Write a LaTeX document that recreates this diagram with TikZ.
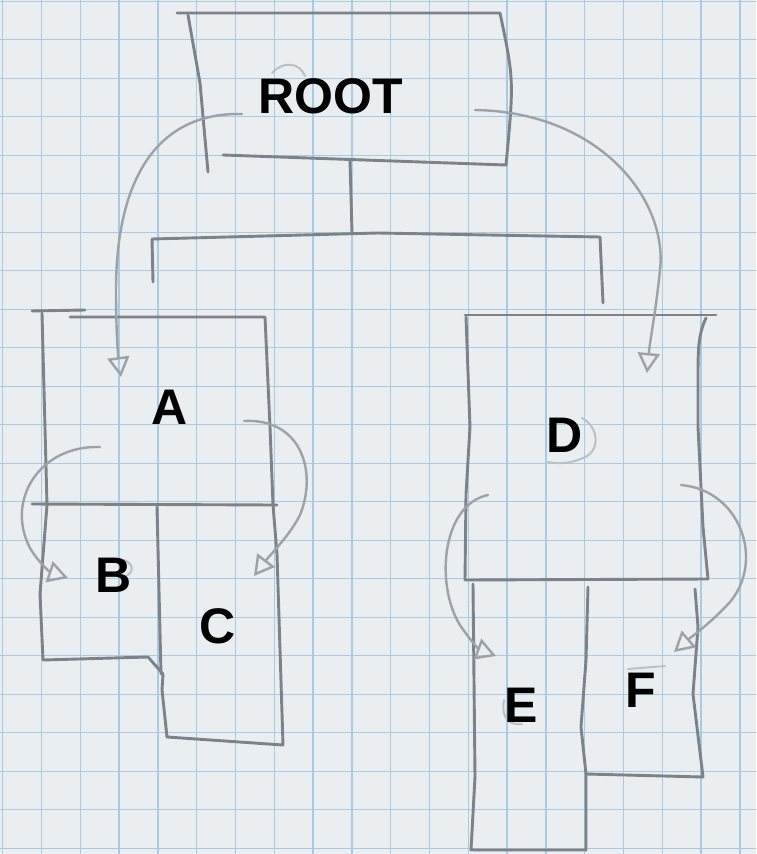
\documentclass[tikz,border=0pt]{standalone}
\usepackage{fontspec}
\setmainfont{Liberation Sans}
\usetikzlibrary{arrows.meta}
\definecolor{paper}{RGB}{234,238,240}
\definecolor{gridblue}{RGB}{168,202,226}
\definecolor{pencil}{RGB}{124,130,136}
\definecolor{lightpencil}{RGB}{156,162,168}
\begin{document}
\begin{tikzpicture}[x=1pt,y=-1pt,
  box/.style={draw=pencil,line width=2.9pt,line cap=round,line join=round},
  link/.style={draw=lightpencil,line width=2.4pt,line cap=round,
    -{Triangle[open,length=20pt,width=22pt,line width=2.4pt]}},
  lbl/.style={font=\fontsize{50}{50}\selectfont\bfseries,text=black,inner sep=0pt},
  ghost/.style={draw=lightpencil!60!paper,line width=2pt,line cap=round},
  gridline/.style={draw=gridblue,line width=1.3pt}]
% paper
\fill[paper] (0,0) rectangle (756,854);
\useasboundingbox (0,0) rectangle (756,854);
\foreach \k in {0,...,19} {\draw[gridline] ({2.7+38.8*\k},0) -- ({2.7+38.8*\k},854);}
\foreach \k in {0,...,22} {\draw[gridline] (0,{1.3+38.5*\k}) -- (756,{1.3+38.5*\k});}

% ghost marks (erased pencil)
\draw[ghost] (272,73) .. controls (284,60) and (300,63) .. (305,76);
\draw[ghost] (582,418) .. controls (600,428) and (600,452) .. (583,458) .. controls (570,464) and (556,464) .. (548,462);
\draw[ghost] (504,700) .. controls (502,712) and (504,726) .. (522,724);
\draw[ghost] (628,669) -- (665,666);
\draw[ghost] (124,560) .. controls (134,564) and (134,572) .. (126,576);

% labels
\node[lbl] (root) at (331,96) {ROOT};
\node[lbl] (a) at (170,407) {A};
\node[lbl] (b) at (114,575) {B};
\node[lbl] (c) at (218,626) {C};
\node[lbl] (d) at (565,435) {D};
\node[lbl] (e) at (521,705) {E};
\node[lbl] (f) at (641,690) {F};

% ROOT box
\draw[box] (177,13) -- (500,13) .. controls (514,80) .. (506,165) -- (223,155);
\draw[box] (188,15) -- (200,83) -- (208,172);
% tree bracket
\draw[box] (350,160) -- (352,233);
\draw[box] (153,282) -- (152,239) -- (378,233) -- (600,237) -- (603,303);

% A / B / C block
\draw[box] (32,311) -- (85,310);
\draw[box] (70,317) -- (265,317) -- (270,427) -- (273,505) -- (277,554) -- (283,745)
  -- (167,737) -- (162,690) -- (163,674) -- (148,657) -- (43,660) -- (40,594) -- (47,505) -- (42,313);
\draw[box] (32,504) -- (277,505);
\draw[box] (157,507) -- (161,674);

% D / E / F block
\draw[box] (465,315) -- (716,315);
\draw[box] (706,318) .. controls (698,335) and (698,350) .. (698,380) -- (698,427) -- (703,527) -- (708,579) -- (465,580);
\draw[box] (466,317) -- (470,427) -- (466,494) -- (465,580);
\draw[box] (473,584) -- (475,777) -- (471,850) -- (586,850);
\draw[box] (588,587) -- (586,660) -- (581,727) -- (586,774) -- (586,850);
\draw[box] (695,589) -- (698,627) -- (693,694) -- (703,777) -- (586,774);

% connector end points
\coordinate (ra1) at (242,114); \coordinate (ra2) at (121,377);
\coordinate (rd1) at (475,110); \coordinate (rd2) at (647,373);
\coordinate (ab1) at (100,447); \coordinate (ab2) at (68,578);
\coordinate (ac1) at (244,421); \coordinate (ac2) at (254,576);
\coordinate (de1) at (488,495); \coordinate (de2) at (496,656);
\coordinate (df1) at (681,485); \coordinate (df2) at (674,652);

% arrows
\draw[link] (ra1) .. controls (150,112) and (116,190) .. (116,290) .. controls (116,330) and (118,355) .. (ra2);
\draw[link] (rd1) .. controls (600,112) and (668,200) .. (660,270) .. controls (656,310) and (650,340) .. (rd2);
\draw[link] (ab1) .. controls (40,445) and (5,500) .. (30,548) .. controls (38,562) and (50,572) .. (ab2);
\draw[link] (ac1) .. controls (300,418) and (318,470) .. (300,515) .. controls (290,535) and (270,555) .. (ac2);
\draw[link] (de1) .. controls (440,505) and (435,590) .. (462,628) .. controls (470,640) and (480,650) .. (de2);
\draw[link] (df1) .. controls (740,490) and (765,560) .. (730,602) .. controls (712,622) and (690,638) .. (df2);
\end{tikzpicture}
\end{document}
